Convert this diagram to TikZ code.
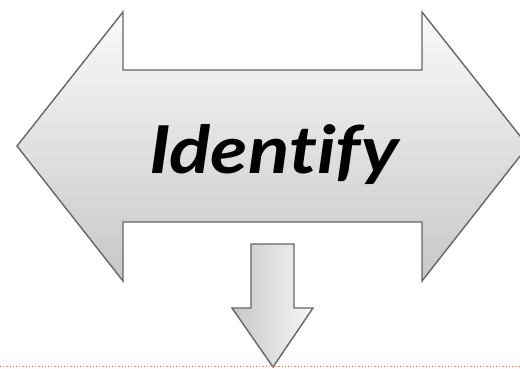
\documentclass[tikz,border=0pt]{standalone}
\usepackage{fontspec}
\setmainfont{Lato}[Ligatures=NoCommon]
\begin{document}
\begin{tikzpicture}[x=1pt,y=-1pt,
  outline/.style={draw=black!60,line width=1.4pt,line join=miter},
  bigarrow/.style={outline,top color=white!98!black,bottom color=black!22},
  downarrow/.style={outline,left color=black!22,right color=black!3},
  label/.style={font=\fontsize{66}{70}\selectfont\bfseries\itshape, inner sep=0pt},
  rule/.style={draw={rgb,255:red,240;green,128;blue,110},line width=1.2pt,dotted}]
\clip (0,0) rectangle (520,368);
\fill[white] (0,0) rectangle (520,368);
% big double arrow
\path[bigarrow] (17,146) -- (123,12) -- (123,70) -- (422,70) -- (422,12) -- (528,146)
  -- (422,281) -- (422,222) -- (123,222) -- (123,281) -- cycle;
% down arrow
\path[downarrow] (251,244) -- (294,244) -- (294,308) -- (313,308) -- (273,367)
  -- (232,308) -- (251,308) -- cycle;
% text
\node[label, anchor=base] (t) at (274,173) {\scalebox{1.16}[1]{Identify}};
% dotted rule
\coordinate (l) at (0,366.5);
\coordinate (r) at (520,366.5);
\draw[rule] (l) -- (r);
\end{tikzpicture}
\end{document}
